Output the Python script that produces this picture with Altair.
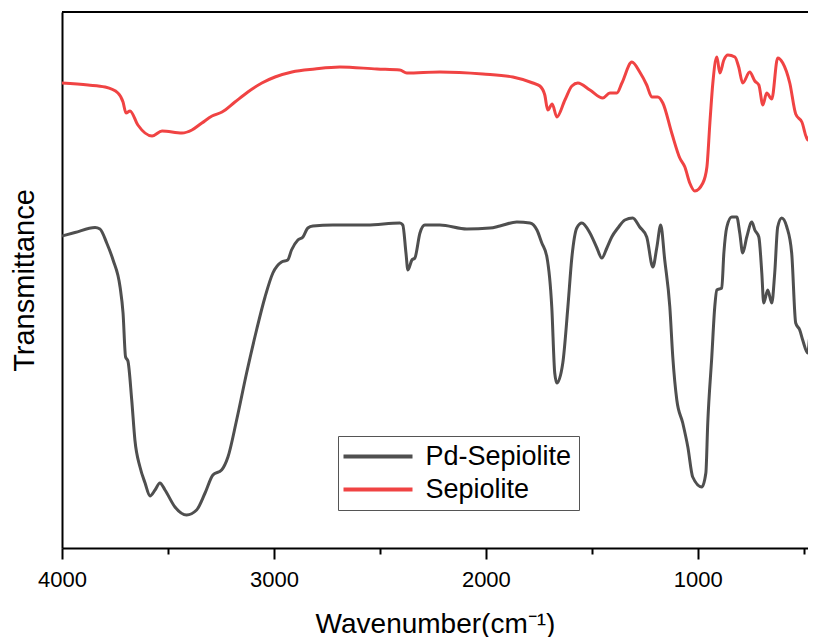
import altair as alt
import pandas as pd

# Pd-Sepiolite (wavenumber cm-1, transmittance a.u.)
pd_wn = [4000, 3939, 3844, 3821, 3789, 3759, 3726, 3712, 3700, 3689, 3671, 3656, 3632, 3608,
         3585, 3561, 3538, 3514, 3467, 3412, 3365, 3325, 3288, 3247, 3217, 3176, 3129, 3082,
         3042, 3005, 2964, 2935, 2917, 2887, 2863, 2840, 2816, 2722, 2561, 2406, 2392, 2377,
         2368, 2349, 2335, 2311, 2288, 2217, 2090, 1981, 1934, 1854, 1792, 1759, 1736, 1712,
         1689, 1675, 1665, 1637, 1613, 1594, 1571, 1547, 1509, 1476, 1453, 1429, 1406, 1377,
         1344, 1307, 1274, 1241, 1212, 1193, 1175, 1156, 1132, 1118, 1099, 1071, 1047, 1024,
         981, 962, 953, 934, 920, 910, 887, 877, 863, 840, 816, 802, 788, 769, 745, 731, 712,
         698, 689, 670, 651, 637, 623, 604, 580, 557, 538, 519, 505, 481, 472, 457, 443, 400]
pd_t = [62.4, 63.1, 64.1, 63.8, 61.0, 57.6, 52.2, 47.0, 38.2, 37.4, 29.6, 21.6, 16.2, 13.0,
        10.4, 11.6, 13.0, 11.6, 8.2, 6.6, 7.6, 11.0, 14.6, 15.6, 18.2, 25.6, 35.0, 43.6,
        50.2, 55.0, 57.2, 57.6, 59.6, 61.6, 62.2, 64.0, 64.4, 64.6, 64.6, 65.0, 64.6, 59.0,
        55.6, 57.6, 58.0, 63.0, 64.6, 64.6, 63.8, 64.0, 64.4, 65.2, 65.0, 63.6, 61.0, 58.2,
        48.2, 35.0, 33.0, 37.0, 48.2, 58.2, 64.0, 65.0, 63.0, 60.0, 58.0, 60.0, 62.2, 64.0,
        65.6, 66.0, 64.2, 62.2, 56.2, 60.2, 64.6, 57.6, 48.2, 38.2, 29.6, 25.0, 20.2, 14.2,
        12.2, 15.0, 25.0, 38.2, 48.2, 51.6, 52.0, 59.0, 64.2, 66.2, 66.2, 63.0, 59.0, 62.2, 65.2, 63.6, 62.2,
        55.0, 49.0, 51.6, 49.0, 55.0, 64.2, 66.0, 64.2, 59.0, 45.0, 43.6, 41.6, 39.0, 42.2, 45.0, 46.0, 48.0]

# Sepiolite
sep_wn = [4000, 3877, 3797, 3736, 3712, 3698, 3679, 3642, 3575, 3528, 3434, 3387, 3340, 3292,
          3245, 3184, 3123, 3057, 2995, 2915, 2807, 2689, 2514, 2406, 2373, 2217, 2014, 1873,
          1778, 1745, 1722, 1708, 1687, 1665, 1627, 1594, 1566, 1509, 1448, 1415, 1382, 1358,
          1311, 1274, 1241, 1217, 1189, 1165, 1123, 1085, 1061, 1038, 1014, 976, 957, 943, 929,
          910, 896, 877, 858, 825, 807, 788, 755, 731, 712, 693, 675, 651, 623, 599, 566, 538,
          509, 481, 462, 443, 400]
sep_t = [93.0, 92.6, 92.2, 91.0, 89.2, 87.0, 87.4, 84.6, 82.4, 83.4, 83.0, 83.6, 85.0, 86.4,
         87.2, 89.2, 91.2, 93.0, 94.2, 95.2, 95.8, 96.2, 95.8, 95.6, 95.0, 95.2, 94.8, 94.2,
         93.0, 92.4, 90.6, 87.6, 88.8, 86.2, 89.6, 92.4, 93.0, 91.6, 90.0, 91.0, 91.0, 93.0,
         97.2, 95.2, 92.6, 90.2, 90.2, 89.0, 83.0, 78.0, 76.2, 73.0, 71.4, 73.0, 76.2, 85.0, 93.0,
         98.2, 95.0, 97.6, 98.6, 98.2, 96.2, 93.0, 95.2, 93.4, 92.6, 88.6, 91.0, 89.8, 98.0, 97.0, 93.0, 86.8,
         85.2, 81.6, 84.4, 85.0, 85.6]

series = ["Pd-Sepiolite", "Sepiolite"]
colors = ["#4f4f4f", "#f04343"]
x_ticks = [4000, 3500, 3000, 2500, 2000, 1500, 1000, 500]

df = pd.concat([
    pd.DataFrame({"Wavenumber": pd_wn, "T": pd_t, "Sample": series[0]}),
    pd.DataFrame({"Wavenumber": sep_wn, "T": sep_t, "Sample": series[1]}),
])

FONT = "Liberation Sans"
W, H = 746, 536

lines = alt.Chart(df).mark_line(strokeWidth=3, interpolate="monotone", clip=True).encode(
    x=alt.X("Wavenumber:Q",
            scale=alt.Scale(domain=[480, 4000], reverse=True, nice=False, zero=False),
            axis=alt.Axis(values=x_ticks,
                          labelExpr="datum.value % 1000 === 0 ? datum.label : ''",
                          format="d",
                          tickSize={"condition": {"test": "datum.value % 1000 === 0", "value": 11}, "value": 6},
                          tickWidth=2, tickColor="black",
                          domainColor="black", domainWidth=2,
                          labelFont=FONT, labelFontSize=22, labelColor="black", labelPadding=10,
                          title="Wavenumber(cm⁻¹)", titleFont=FONT, titleFontSize=28,
                          titleFontWeight="normal", titleColor="black", titlePadding=20,
                          grid=False, labelFlush=False)),
    y=alt.Y("T:Q",
            scale=alt.Scale(domain=[0, 107.2], nice=False, zero=False),
            axis=alt.Axis(labels=False, ticks=False, grid=False,
                          domainColor="black", domainWidth=2,
                          title="Transmittance", titleFont=FONT, titleFontSize=29,
                          titleFontWeight="normal", titleColor="black", titlePadding=23)),
    color=alt.Color("Sample:N",
                    scale=alt.Scale(domain=series, range=colors),
                    legend=alt.Legend(orient="none", legendX=276, legendY=424, title=None,
                                      strokeColor="#555555", fillColor="white", padding=7,
                                      symbolType="M-3,0H3", symbolSize=529, symbolStrokeWidth=4,
                                      symbolOffset=19.5, labelOffset=34, rowPadding=5,
                                      labelFont=FONT, labelFontSize=27, labelColor="black")),
)

top_border = alt.Chart(df).mark_rule(color="black", strokeWidth=2).encode(
    x=alt.value(0), x2=alt.value(W), y=alt.value(0)
)

chart = alt.layer(lines, top_border).properties(
    width=W, height=H,
    autosize=alt.AutoSizeParams(type="none"),
    padding={"left": 54, "top": 4, "right": 0, "bottom": 95},
).configure_view(stroke=None)

chart.save("out.html", embed_options={"renderer": "svg", "actions": False})
